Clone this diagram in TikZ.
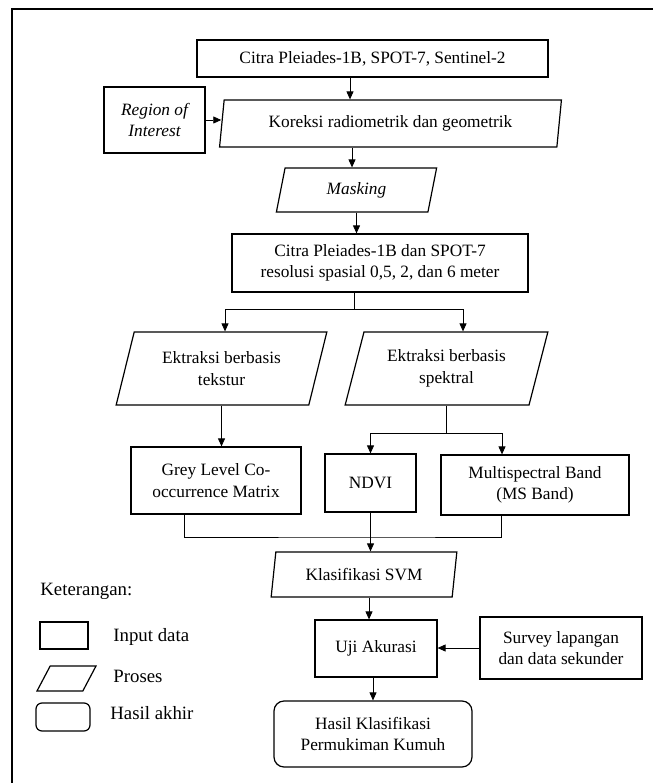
\documentclass[tikz,border=0pt]{standalone}
\usepackage{fontspec}
\setmainfont{Liberation Serif}
\usetikzlibrary{shapes.geometric,arrows.meta}

\tikzset{
  inbox/.style={draw,rectangle,line width=1.2pt,inner sep=0pt,align=center},
  proc/.style={draw,trapezium,trapezium stretches=true,line width=1.2pt,inner sep=0pt,align=center},
  hasil/.style={draw,rectangle,rounded corners=10pt,line width=1.2pt,inner sep=0pt,align=center},
  legtext/.style={anchor=west,inner sep=0pt,font=\fontsize{18.8}{22}\selectfont}
}

\begin{document}
\begin{tikzpicture}[x=1pt,y=1pt,line width=0.8pt,>={Triangle[length=8pt,width=7pt]},
  font=\fontsize{17.3}{21.5}\selectfont]
  \useasboundingbox (0,0) rectangle (653,-783);
  \draw[line width=1.6pt] (12,-783) -- (12,-9) -- (653,-9);

  \node(citra)[inbox,minimum width=351pt,minimum height=37pt] at (372.5,-58.5) {Citra Pleiades-1B, SPOT-7, Sentinel-2};
  \node(roi)[inbox,minimum width=101pt,minimum height=66pt] at (154.5,-120) {\itshape Region of\\\itshape Interest};
  \node(koreksi)[proc,trapezium left angle=78,trapezium right angle=102,minimum width=343pt,minimum height=47pt] at (390.5,-123.5) {Koreksi radiometrik dan geometrik};
  \node(masking)[proc,trapezium left angle=77,trapezium right angle=103,minimum width=161pt,minimum height=44pt] at (356.5,-190) {\itshape Masking};
  \node(citra2)[inbox,minimum width=296pt,minimum height=58pt] at (380,-263) {Citra Pleiades-1B dan SPOT-7\\resolusi spasial 0,5, 2, dan 6 meter};
  \node(tekstur)[proc,trapezium left angle=70,trapezium right angle=110,minimum width=211pt,minimum height=73pt] at (221.5,-368.5) {Ektraksi berbasis\\tekstur};
  \node(spektral)[proc,trapezium left angle=70,trapezium right angle=110,minimum width=203pt,minimum height=73pt] at (446.5,-368.5) {Ektraksi berbasis\\spektral};
  \node(glcm)[inbox,minimum width=170pt,minimum height=67pt] at (216,-480.5) {Grey Level Co-\\occurrence Matrix};
  \node(ndvi)[inbox,minimum width=91pt,minimum height=58pt] at (370.5,-483) {NDVI};
  \node(ms)[inbox,minimum width=188pt,minimum height=60pt] at (535,-485) {Multispectral Band\\(MS Band)};
  \node(svm)[proc,trapezium left angle=76,trapezium right angle=104,minimum width=186pt,minimum height=45pt] at (364,-574.5) {Klasifikasi SVM};
  \node(uji)[inbox,minimum width=122pt,minimum height=57pt] at (376,-648.5) {Uji Akurasi};
  \node(survey)[inbox,minimum width=162pt,minimum height=62pt] at (561,-648) {Survey lapangan\\dan data sekunder};
  \node(hasil)[hasil,minimum width=198pt,minimum height=66pt] at (373,-734) {Hasil Klasifikasi\\Permukiman Kumuh};

  \coordinate (j1) at (354,-309);
  \coordinate (j3) at (370.5,-537);

  \draw [->] ([xshift=-22.5]citra.south) -- ([xshift=-22.5]citra.south |- koreksi.north);
  \draw [->] (roi.east) -- (roi.east -| koreksi.west);
  \draw [->] ([xshift=-4.5]masking.north |- koreksi.south) -- ([xshift=-4.5]masking.north);
  \draw [->] (masking.south) -- (masking.south |- citra2.north);
  \draw (citra2.south -| j1) -- (j1);
  \draw [->] (j1) -| ([xshift=3.5]tekstur.north);
  \draw [->] (j1) -| ([xshift=16.5]spektral.north);
  \draw [->] (tekstur.south) -- (tekstur.south |- glcm.north);
  \draw (spektral.south) -- ++(0,-28) coordinate (j2);
  \draw [->] (j2) -| (ndvi.north);
  \draw [->] (j2) -| ([xshift=-33]ms.north);
  \draw ([xshift=-32]glcm.south) |- (j3) -| ([xshift=-34]ms.south);
  \draw [->] (ndvi.south) -- (ndvi.south |- svm.north);
  \draw [->] ([xshift=5]svm.south) -- ([xshift=5]svm.south |- uji.north);
  \draw [->] (survey.west) -- (survey.west -| uji.east);
  \draw [->] (uji.south -| hasil.north) -- (hasil.north);

  % legend
  \node(ket)[legtext] at (40,-591) {Keterangan:};
  \node(leginp)[inbox,minimum width=48pt,minimum height=27pt] at (64,-635.5) {};
  \node(legproc)[proc,trapezium left angle=68,trapezium right angle=112,minimum width=59pt,minimum height=25pt] at (66.5,-678.5) {\phantom{\rule{1pt}{1pt}}};
  \node(leghasil)[hasil,rounded corners=6pt,minimum width=54pt,minimum height=28pt] at (63,-717) {};
  \node(tinp)[legtext] at (113,-637) {Input data};
  \node(tproc)[legtext] at (113,-676) {Proses};
  \node(thasil)[legtext] at (110,-713) {Hasil akhir};
\end{tikzpicture}
\end{document}
